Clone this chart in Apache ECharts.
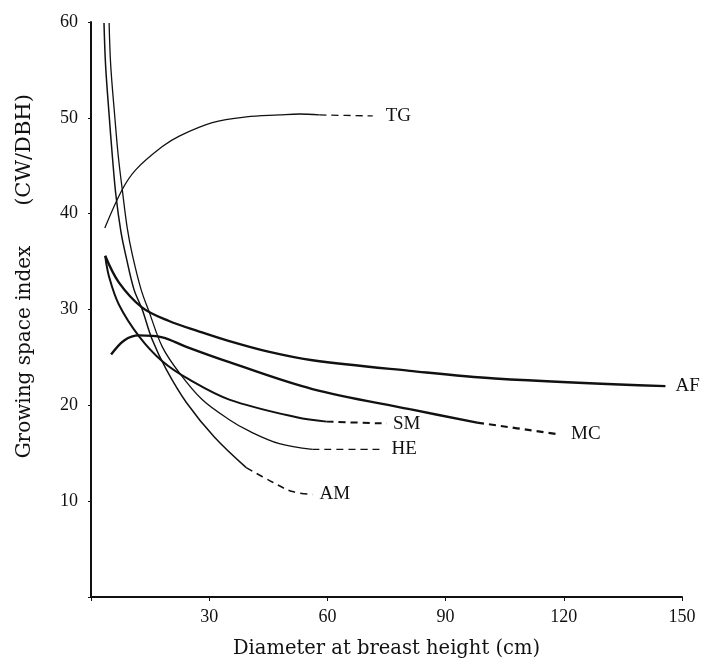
<!DOCTYPE html>
<html><head><meta charset="utf-8">
<script src="https://cdn.jsdelivr.net/npm/echarts@6/dist/echarts.min.js"></script>
<style>html,body{margin:0;padding:0;background:#fff}#c{width:705px;height:664px}</style>
</head><body><div id="c"></div>
<script>
// Tick labels
const xTicks = [30, 60, 90, 120, 150];
const yTicks = [10, 20, 30, 40, 50, 60];

// Curves: [DBH cm, growing space index]
const TG_solid = [[3.5,38.5],[7.9,42.5],[11.4,44.6],[18.1,47.0],[22.4,48.1],[30.8,49.5],[39.4,50.1],[47.8,50.3],[52.9,50.4],[58.0,50.3]];
const TG_dash  = [[58.0,50.3],[71.5,50.2]];

const AF_solid = [[3.6,35.6],[7.1,32.8],[13.0,30.2],[19.8,28.8],[27.5,27.7],[35.1,26.7],[45.0,25.6],[56.2,24.7],[80.9,23.6],[102.5,22.8],[145.8,22.0]];

const SM_solid = [[3.6,35.6],[4.6,33.4],[7.1,30.5],[12.2,27.2],[18.1,24.6],[24.9,22.7],[35.1,20.6],[52.2,18.75],[59.8,18.3]];
const SM_dash  = [[59.8,18.3],[75.1,18.1]];

const MC_solid = [[5.1,25.3],[8.5,26.8],[12.2,27.3],[18.1,27.1],[24.2,26.1],[35.1,24.5],[56.2,21.7],[80.9,19.6],[98.0,18.2]];
const MC_dash  = [[98.0,18.2],[118.3,17.0]];

const HE_solid = [[4.6,59.9],[5.0,55.5],[6.0,50.3],[6.9,46.1],[8.0,42.3],[9.2,38.5],[10.5,35.7],[12.7,32.1],[14.8,29.7],[18.1,26.1],[22.4,23.4],[28.2,20.6],[35.1,18.5],[40.2,17.3],[47.8,16.0],[56.2,15.4]];
const HE_dash  = [[56.2,15.4],[74.0,15.4]];

const AM_solid = [[3.3,59.9],[3.7,55.5],[4.6,50.3],[5.4,46.1],[6.3,42.0],[7.6,38.1],[8.8,35.7],[10.9,32.1],[13.0,30.0],[15.5,26.9],[19.1,23.75],[24.2,20.3],[31.3,16.7],[39.4,13.5]];
const AM_dash  = [[39.4,13.5],[46.0,12.0],[51.1,11.0],[56.2,10.7]];

const FONT = 'Liberation Serif';
const INK = '#111';

function solid(name, data, w, dist) {
  return {
    type: 'line', name: name, data: data, smooth: 0.35, symbol: 'none',
    lineStyle: { color: INK, width: w, type: 'solid' },
    endLabel: dist != null ? { show: true, formatter: name, color: INK, fontFamily: FONT, fontSize: 19, distance: dist } : { show: false },
    silent: true, animation: false
  };
}
function dashed(name, data, w, dist) {
  return {
    type: 'line', name: name, data: data, smooth: 0.35, symbol: 'none',
    lineStyle: { color: INK, width: w, type: [7, 5] },
    endLabel: { show: true, formatter: name, color: INK, fontFamily: FONT, fontSize: 19, distance: dist },
    silent: true, animation: false
  };
}

const chart = echarts.init(document.getElementById('c'), null, { renderer: 'canvas' });
chart.setOption({
  backgroundColor: '#fff',
  animation: false,
  grid: { left: 91, right: 23, top: 22, bottom: 66, containLabel: false },
  xAxis: {
    type: 'value', min: 0, max: 150, interval: 30,
    name: 'Diameter at breast height (cm)', nameLocation: 'middle', nameGap: 42,
    nameTextStyle: { fontFamily: 'DejaVu Serif', fontSize: 19.5, color: INK },
    axisLine: { show: true, onZero: false, lineStyle: { color: INK, width: 2 } },
    axisTick: { show: true, length: 4, lineStyle: { color: INK } },
    splitLine: { show: false },
    axisLabel: {
      fontFamily: FONT, fontSize: 18, color: INK, margin: 11,
      formatter: v => xTicks.indexOf(v) >= 0 ? String(v) : ''
    }
  },
  yAxis: {
    type: 'value', min: 0, max: 60, interval: 10,
    axisLine: { show: true, onZero: false, lineStyle: { color: INK, width: 2 } },
    axisTick: { show: true, length: 3, lineStyle: { color: INK } },
    splitLine: { show: false },
    axisLabel: {
      fontFamily: FONT, fontSize: 18, color: INK, margin: 13,
      formatter: v => yTicks.indexOf(v) >= 0 ? String(v) : ''
    }
  },
  graphic: [
    { type: 'text', x: 25, y: 352, rotation: Math.PI / 2,
      style: { text: 'Growing space index', font: '20px "DejaVu Serif"', fill: INK, textAlign: 'center', textVerticalAlign: 'middle' } },
    { type: 'text', x: 25, y: 150, rotation: Math.PI / 2,
      style: { text: '(CW/DBH)', font: '21px "DejaVu Serif"', fill: INK, textAlign: 'center', textVerticalAlign: 'middle' } }
  ],
  series: [
    solid('TG', TG_solid, 1.3, null), dashed('TG', TG_dash, 1.3, 13),
    solid('AF', AF_solid, 2.4, 10),
    solid('SM', SM_solid, 2.0, null), dashed('SM', SM_dash, 2.0, 6),
    solid('MC', MC_solid, 2.4, null), dashed('MC', MC_dash, 2.2, 14),
    solid('HE', HE_solid, 1.3, null), dashed('HE', HE_dash, 1.3, 9),
    solid('AM', AM_solid, 1.5, null), dashed('AM', AM_dash, 1.5, 7)
  ]
});
</script>
</body></html>
